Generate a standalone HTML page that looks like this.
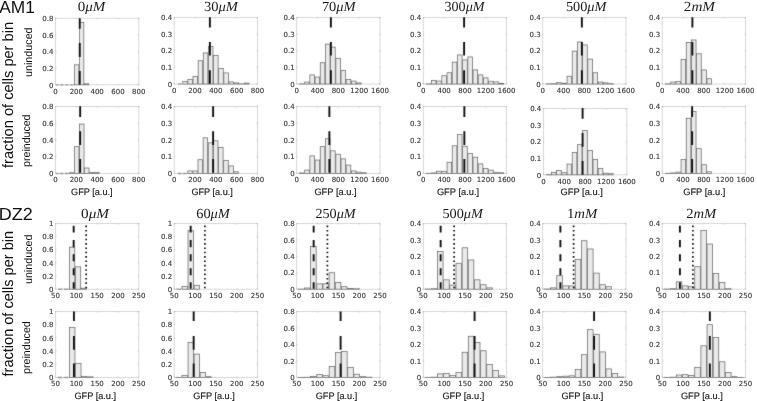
<!DOCTYPE html>
<html><head><meta charset="utf-8"><title>GFP histograms</title>
<style>
html,body{margin:0;padding:0;background:#fff;}
body{width:757px;height:401px;overflow:hidden;}
svg{display:block;text-rendering:geometricPrecision;}
.tk text{font-family:"DejaVu Sans","Liberation Sans",sans-serif;font-size:7.0px;fill:#383838;stroke:#383838;stroke-width:0.12px;}
.tt{font-family:"Liberation Serif","DejaVu Serif",serif;font-size:13.9px;fill:#1a1a1a;}
.gl{font-family:"Liberation Sans",Arial,sans-serif;font-size:9.3px;fill:#1a1a1a;stroke:#1a1a1a;stroke-width:0.15px;}
.sl{font-family:"Liberation Sans",Arial,sans-serif;font-size:17.5px;fill:#111;}
.fl{font-family:"Liberation Sans",Arial,sans-serif;font-size:15px;fill:#111;}
.il{font-family:"Liberation Sans",Arial,sans-serif;font-size:10.8px;fill:#111;}
</style></head>
<body>
<svg width="757" height="401" viewBox="0 0 757 401">
<defs><filter id="soft" x="0" y="0" width="757" height="401" filterUnits="userSpaceOnUse" color-interpolation-filters="sRGB"><feConvolveMatrix order="3" kernelMatrix="0.015 0.065 0.015 0.065 0.68 0.065 0.015 0.065 0.015" edgeMode="duplicate" preserveAlpha="true"/></filter></defs>
<g filter="url(#soft)">
<rect width="757" height="401" fill="#fff"/>
<g><g><rect x="55.5" y="18.25" width="83.3" height="66.55" fill="none" stroke="#cfcfcf" stroke-width="0.8"/><path d="M55.5 84.8h1M138.8 84.8h-1M55.5 68.16h1M138.8 68.16h-1M55.5 51.52h1M138.8 51.52h-1M55.5 34.89h1M138.8 34.89h-1M55.5 18.25h1M138.8 18.25h-1M55.5 84.8v-1M55.5 18.25v1M76.33 84.8v-1M76.33 18.25v1M97.15 84.8v-1M97.15 18.25v1M117.97 84.8v-1M117.97 18.25v1M138.8 84.8v-1M138.8 18.25v1" stroke="#a8a8a8" stroke-width="0.6" fill="none"/></g><g fill="#eaeaea" stroke="#666666" stroke-width="0.72"><path d="M69.87 84.8H73.53M64.9 84.8H68.57M59.94 84.8H63.6M56.1 84.8H58.64" stroke="#999" stroke-width="1.35" fill="none"/><rect x="74.48" y="64.83" width="4.37" height="19.96"/><rect x="79.45" y="22.41" width="4.37" height="62.39"/><rect x="84.41" y="83.8" width="4.37" height="1"/></g><path d="M79.75 18.21V28.69M79.75 42.91V56.89M79.75 71.11V84.58" stroke="#111" stroke-width="1.9" fill="none"/></g>
<g><g><rect x="174.2" y="17.5" width="83.3" height="66.55" fill="none" stroke="#cfcfcf" stroke-width="0.8"/><path d="M174.2 84.05h1M257.5 84.05h-1M174.2 67.41h1M257.5 67.41h-1M174.2 50.77h1M257.5 50.77h-1M174.2 34.14h1M257.5 34.14h-1M174.2 17.5h1M257.5 17.5h-1M174.2 84.05v-1M174.2 17.5v1M195.02 84.05v-1M195.02 17.5v1M215.85 84.05v-1M215.85 17.5v1M236.67 84.05v-1M236.67 17.5v1M257.5 84.05v-1M257.5 17.5v1" stroke="#a8a8a8" stroke-width="0.6" fill="none"/></g><g fill="#eaeaea" stroke="#666666" stroke-width="0.72"><path d="M177.95 84.05H181.79" stroke="#999" stroke-width="1.35" fill="none"/><rect x="182.74" y="81.55" width="4.54" height="2.5"/><rect x="187.87" y="79.56" width="4.54" height="4.49"/><rect x="193.01" y="76.56" width="4.54" height="7.49"/><rect x="198.15" y="60.76" width="4.54" height="23.29"/><rect x="203.29" y="52.94" width="4.54" height="31.11"/><rect x="208.43" y="46.62" width="4.54" height="37.43"/><rect x="213.57" y="55.43" width="4.54" height="28.62"/><rect x="218.71" y="68.58" width="4.54" height="15.47"/><rect x="223.85" y="72.9" width="4.54" height="11.15"/><rect x="228.99" y="81.89" width="4.54" height="2.16"/><rect x="234.13" y="82.89" width="4.54" height="1.16"/><rect x="239.27" y="83.88" width="4.54" height="0.17"/><rect x="244.41" y="83.05" width="4.54" height="1"/></g><path d="M209.88 17.22V27.45M209.88 41.92V55.39M209.88 70.36V83.83" stroke="#111" stroke-width="1.9" fill="none"/></g>
<g><g><rect x="296.7" y="17.5" width="83.3" height="66.55" fill="none" stroke="#cfcfcf" stroke-width="0.8"/><path d="M296.7 84.05h1M380 84.05h-1M296.7 67.41h1M380 67.41h-1M296.7 50.77h1M380 50.77h-1M296.7 34.14h1M380 34.14h-1M296.7 17.5h1M380 17.5h-1M296.7 84.05v-1M296.7 17.5v1M317.52 84.05v-1M317.52 17.5v1M338.35 84.05v-1M338.35 17.5v1M359.18 84.05v-1M359.18 17.5v1M380 84.05v-1M380 17.5v1" stroke="#a8a8a8" stroke-width="0.6" fill="none"/></g><g fill="#eaeaea" stroke="#666666" stroke-width="0.72"><rect x="299.49" y="83.88" width="4.59" height="0.17"/><rect x="304.68" y="82.05" width="4.59" height="2"/><rect x="309.87" y="74.9" width="4.59" height="9.15"/><rect x="315.06" y="77.06" width="4.59" height="6.99"/><rect x="320.25" y="62.75" width="4.59" height="21.3"/><rect x="325.44" y="44.12" width="4.59" height="39.93"/><rect x="330.63" y="47.11" width="4.59" height="36.94"/><rect x="335.82" y="58.26" width="4.59" height="25.79"/><rect x="341.01" y="70.41" width="4.59" height="13.64"/><rect x="346.2" y="79.56" width="4.59" height="4.49"/><rect x="351.39" y="81.06" width="4.59" height="2.99"/><rect x="356.58" y="82.89" width="4.59" height="1.16"/></g><path d="M330.88 17.22V27.45M330.88 41.92V55.39M330.88 70.36V83.83" stroke="#111" stroke-width="1.9" fill="none"/></g>
<g><g><rect x="423.3" y="17.5" width="83.3" height="66.55" fill="none" stroke="#cfcfcf" stroke-width="0.8"/><path d="M423.3 84.05h1M506.6 84.05h-1M423.3 67.41h1M506.6 67.41h-1M423.3 50.77h1M506.6 50.77h-1M423.3 34.14h1M506.6 34.14h-1M423.3 17.5h1M506.6 17.5h-1M423.3 84.05v-1M423.3 17.5v1M444.12 84.05v-1M444.12 17.5v1M464.95 84.05v-1M464.95 17.5v1M485.78 84.05v-1M485.78 17.5v1M506.6 84.05v-1M506.6 17.5v1" stroke="#a8a8a8" stroke-width="0.6" fill="none"/></g><g fill="#eaeaea" stroke="#666666" stroke-width="0.72"><rect x="426.23" y="83.88" width="4.6" height="0.17"/><rect x="431.43" y="80.39" width="4.6" height="3.66"/><rect x="436.63" y="81.06" width="4.6" height="2.99"/><rect x="441.83" y="75.73" width="4.6" height="8.32"/><rect x="447.04" y="72.74" width="4.6" height="11.31"/><rect x="452.24" y="62.09" width="4.6" height="21.96"/><rect x="457.44" y="54.93" width="4.6" height="29.12"/><rect x="462.64" y="59.93" width="4.6" height="24.12"/><rect x="467.84" y="56.93" width="4.6" height="27.12"/><rect x="473.05" y="69.91" width="4.6" height="14.14"/><rect x="478.25" y="74.9" width="4.6" height="9.15"/><rect x="483.45" y="77.89" width="4.6" height="6.16"/><rect x="488.65" y="81.22" width="4.6" height="2.83"/><rect x="493.86" y="81.89" width="4.6" height="2.16"/><rect x="499.06" y="83.55" width="4.6" height="0.5"/></g><path d="M464.1 17.22V27.45M464.1 41.92V55.39M464.1 70.36V83.83" stroke="#111" stroke-width="1.9" fill="none"/></g>
<g><g><rect x="542.7" y="17.5" width="83.3" height="66.55" fill="none" stroke="#cfcfcf" stroke-width="0.8"/><path d="M542.7 84.05h1M626 84.05h-1M542.7 67.41h1M626 67.41h-1M542.7 50.77h1M626 50.77h-1M542.7 34.14h1M626 34.14h-1M542.7 17.5h1M626 17.5h-1M542.7 84.05v-1M542.7 17.5v1M563.53 84.05v-1M563.53 17.5v1M584.35 84.05v-1M584.35 17.5v1M605.18 84.05v-1M605.18 17.5v1M626 84.05v-1M626 17.5v1" stroke="#a8a8a8" stroke-width="0.6" fill="none"/></g><g fill="#eaeaea" stroke="#666666" stroke-width="0.72"><rect x="546.23" y="83.88" width="4.6" height="0.17"/><rect x="551.43" y="83.72" width="4.6" height="0.33"/><rect x="556.63" y="82.72" width="4.6" height="1.33"/><rect x="561.83" y="83.22" width="4.6" height="0.83"/><rect x="567.04" y="76.23" width="4.6" height="7.82"/><rect x="572.24" y="51.11" width="4.6" height="32.94"/><rect x="577.44" y="41.96" width="4.6" height="42.09"/><rect x="582.64" y="44.95" width="4.6" height="39.1"/><rect x="587.84" y="59.09" width="4.6" height="24.96"/><rect x="593.05" y="72.74" width="4.6" height="11.31"/><rect x="598.25" y="82.05" width="4.6" height="2"/><rect x="603.45" y="82.89" width="4.6" height="1.16"/><rect x="608.65" y="83.72" width="4.6" height="0.33"/></g><path d="M581.86 17.22V27.45M581.86 41.92V55.39M581.86 70.36V83.83" stroke="#111" stroke-width="1.9" fill="none"/></g>
<g><g><rect x="662.2" y="17.5" width="83.3" height="66.55" fill="none" stroke="#cfcfcf" stroke-width="0.8"/><path d="M662.2 84.05h1M745.5 84.05h-1M662.2 67.41h1M745.5 67.41h-1M662.2 50.77h1M745.5 50.77h-1M662.2 34.14h1M745.5 34.14h-1M662.2 17.5h1M745.5 17.5h-1M662.2 84.05v-1M662.2 17.5v1M683.03 84.05v-1M683.03 17.5v1M703.85 84.05v-1M703.85 17.5v1M724.68 84.05v-1M724.68 17.5v1M745.5 84.05v-1M745.5 17.5v1" stroke="#a8a8a8" stroke-width="0.6" fill="none"/></g><g fill="#eaeaea" stroke="#666666" stroke-width="0.72"><rect x="665.49" y="83.88" width="4.59" height="0.17"/><rect x="670.68" y="82.05" width="4.59" height="2"/><rect x="675.87" y="81.55" width="4.59" height="2.5"/><rect x="681.06" y="59.59" width="4.59" height="24.46"/><rect x="686.25" y="42.46" width="4.59" height="41.59"/><rect x="691.44" y="39.96" width="4.59" height="44.09"/><rect x="696.63" y="53.77" width="4.59" height="30.28"/><rect x="701.82" y="69.91" width="4.59" height="14.14"/><rect x="707.01" y="78.73" width="4.59" height="5.32"/></g><path d="M692.39 17.22V27.45M692.39 41.92V55.39M692.39 70.36V83.83" stroke="#111" stroke-width="1.9" fill="none"/></g>
<g><g><rect x="55.5" y="106.5" width="83.3" height="66.95" fill="none" stroke="#cfcfcf" stroke-width="0.8"/><path d="M55.5 173.45h1M138.8 173.45h-1M55.5 156.71h1M138.8 156.71h-1M55.5 139.97h1M138.8 139.97h-1M55.5 123.24h1M138.8 123.24h-1M55.5 106.5h1M138.8 106.5h-1M55.5 173.45v-1M55.5 106.5v1M76.33 173.45v-1M76.33 106.5v1M97.15 173.45v-1M97.15 106.5v1M117.97 173.45v-1M117.97 106.5v1M138.8 173.45v-1M138.8 106.5v1" stroke="#a8a8a8" stroke-width="0.6" fill="none"/></g><g fill="#eaeaea" stroke="#666666" stroke-width="0.72"><path d="M64.8 173.45H68.54M59.76 173.45H63.5M56.1 173.45H58.46" stroke="#999" stroke-width="1.35" fill="none"/><rect x="69.49" y="172.78" width="4.44" height="0.67"/><rect x="74.53" y="146.67" width="4.44" height="26.78"/><rect x="79.57" y="124.07" width="4.44" height="49.38"/><rect x="84.61" y="168.01" width="4.44" height="5.44"/><rect x="89.65" y="172.45" width="4.44" height="1"/><rect x="94.69" y="172.45" width="4.44" height="1"/></g><path d="M80.17 106.23V116.96M80.17 131.18V144.9M80.17 159.12V172.84" stroke="#111" stroke-width="1.9" fill="none"/></g>
<g><g><rect x="174.2" y="106.5" width="83.3" height="66.95" fill="none" stroke="#cfcfcf" stroke-width="0.8"/><path d="M174.2 173.45h1M257.5 173.45h-1M174.2 156.71h1M257.5 156.71h-1M174.2 139.97h1M257.5 139.97h-1M174.2 123.24h1M257.5 123.24h-1M174.2 106.5h1M257.5 106.5h-1M174.2 173.45v-1M174.2 106.5v1M195.02 173.45v-1M195.02 106.5v1M215.85 173.45v-1M215.85 106.5v1M236.67 173.45v-1M236.67 106.5v1M257.5 173.45v-1M257.5 106.5v1" stroke="#a8a8a8" stroke-width="0.6" fill="none"/></g><g fill="#eaeaea" stroke="#666666" stroke-width="0.72"><path d="M182.94 173.45H186.78M177.8 173.45H181.64" stroke="#999" stroke-width="1.35" fill="none"/><rect x="187.73" y="170.94" width="4.54" height="2.51"/><rect x="192.86" y="170.94" width="4.54" height="2.51"/><rect x="198" y="159.73" width="4.54" height="13.72"/><rect x="203.14" y="137.8" width="4.54" height="35.65"/><rect x="208.28" y="142.82" width="4.54" height="30.63"/><rect x="213.42" y="140.81" width="4.54" height="32.64"/><rect x="218.56" y="147.51" width="4.54" height="25.94"/><rect x="223.7" y="160.56" width="4.54" height="12.89"/><rect x="228.84" y="165.92" width="4.54" height="7.53"/><rect x="233.98" y="171.78" width="4.54" height="1.67"/></g><path d="M213.12 106.23V116.96M213.12 131.18V144.9M213.12 159.12V172.84" stroke="#111" stroke-width="1.9" fill="none"/></g>
<g><g><rect x="296.7" y="106.5" width="83.3" height="66.95" fill="none" stroke="#cfcfcf" stroke-width="0.8"/><path d="M296.7 173.45h1M380 173.45h-1M296.7 156.71h1M380 156.71h-1M296.7 139.97h1M380 139.97h-1M296.7 123.24h1M380 123.24h-1M296.7 106.5h1M380 106.5h-1M296.7 173.45v-1M296.7 106.5v1M317.52 173.45v-1M317.52 106.5v1M338.35 173.45v-1M338.35 106.5v1M359.18 173.45v-1M359.18 106.5v1M380 173.45v-1M380 106.5v1" stroke="#a8a8a8" stroke-width="0.6" fill="none"/></g><g fill="#eaeaea" stroke="#666666" stroke-width="0.72"><rect x="299.49" y="172.95" width="4.59" height="0.5"/><rect x="304.68" y="170.1" width="4.59" height="3.35"/><rect x="309.87" y="155.88" width="4.59" height="17.57"/><rect x="315.06" y="160.06" width="4.59" height="13.39"/><rect x="320.25" y="146.67" width="4.59" height="26.78"/><rect x="325.44" y="138.8" width="4.59" height="34.65"/><rect x="330.63" y="150.85" width="4.59" height="22.6"/><rect x="335.82" y="154.2" width="4.59" height="19.25"/><rect x="341.01" y="158.89" width="4.59" height="14.56"/><rect x="346.2" y="165.08" width="4.59" height="8.37"/><rect x="351.39" y="170.94" width="4.59" height="2.51"/><rect x="356.58" y="172.11" width="4.59" height="1.34"/><rect x="361.77" y="172.78" width="4.59" height="0.67"/></g><path d="M329.38 106.23V116.96M329.38 131.18V144.9M329.38 159.12V172.84" stroke="#111" stroke-width="1.9" fill="none"/></g>
<g><g><rect x="423.3" y="106.5" width="83.3" height="66.95" fill="none" stroke="#cfcfcf" stroke-width="0.8"/><path d="M423.3 173.45h1M506.6 173.45h-1M423.3 156.71h1M506.6 156.71h-1M423.3 139.97h1M506.6 139.97h-1M423.3 123.24h1M506.6 123.24h-1M423.3 106.5h1M506.6 106.5h-1M423.3 173.45v-1M423.3 106.5v1M444.12 173.45v-1M444.12 106.5v1M464.95 173.45v-1M464.95 106.5v1M485.78 173.45v-1M485.78 106.5v1M506.6 173.45v-1M506.6 106.5v1" stroke="#a8a8a8" stroke-width="0.6" fill="none"/></g><g fill="#eaeaea" stroke="#666666" stroke-width="0.72"><rect x="426.23" y="173.28" width="4.6" height="0.17"/><rect x="431.43" y="172.95" width="4.6" height="0.5"/><rect x="436.63" y="171.27" width="4.6" height="2.18"/><rect x="441.83" y="171.27" width="4.6" height="2.18"/><rect x="447.04" y="162.24" width="4.6" height="11.21"/><rect x="452.24" y="145.83" width="4.6" height="27.62"/><rect x="457.44" y="134.62" width="4.6" height="38.83"/><rect x="462.64" y="146.17" width="4.6" height="27.28"/><rect x="467.84" y="153.36" width="4.6" height="20.08"/><rect x="473.05" y="157.21" width="4.6" height="16.24"/><rect x="478.25" y="163.91" width="4.6" height="9.54"/><rect x="483.45" y="168.43" width="4.6" height="5.02"/><rect x="488.65" y="170.1" width="4.6" height="3.35"/><rect x="493.86" y="172.28" width="4.6" height="1.17"/><rect x="499.06" y="172.78" width="4.6" height="0.67"/></g><path d="M464.35 106.23V116.96M464.35 131.18V144.9M464.35 159.12V172.84" stroke="#111" stroke-width="1.9" fill="none"/></g>
<g><g><rect x="543.4" y="108.55" width="83.45" height="66.3" fill="none" stroke="#cfcfcf" stroke-width="0.8"/><path d="M543.4 174.85h1M626.85 174.85h-1M543.4 158.28h1M626.85 158.28h-1M543.4 141.7h1M626.85 141.7h-1M543.4 125.12h1M626.85 125.12h-1M543.4 108.55h1M626.85 108.55h-1M543.4 174.85v-1M543.4 108.55v1M564.26 174.85v-1M564.26 108.55v1M585.12 174.85v-1M585.12 108.55v1M605.99 174.85v-1M605.99 108.55v1M626.85 174.85v-1M626.85 108.55v1" stroke="#a8a8a8" stroke-width="0.6" fill="none"/></g><g fill="#eaeaea" stroke="#666666" stroke-width="0.72"><rect x="546.23" y="174.68" width="4.6" height="0.17"/><rect x="551.43" y="172.36" width="4.6" height="2.49"/><rect x="556.63" y="170.37" width="4.6" height="4.48"/><rect x="561.83" y="172.7" width="4.6" height="2.15"/><rect x="567.04" y="164.08" width="4.6" height="10.77"/><rect x="572.24" y="152.47" width="4.6" height="22.38"/><rect x="577.44" y="144.68" width="4.6" height="30.17"/><rect x="582.64" y="130.59" width="4.6" height="44.26"/><rect x="587.84" y="150.48" width="4.6" height="24.37"/><rect x="593.05" y="159.6" width="4.6" height="15.25"/><rect x="598.25" y="168.55" width="4.6" height="6.3"/><rect x="603.45" y="173.19" width="4.6" height="1.66"/><rect x="608.65" y="173.69" width="4.6" height="1.16"/></g><path d="M582.6 107.97V118.7M582.6 132.92V146.65M582.6 161.12V174.84" stroke="#111" stroke-width="1.9" fill="none"/></g>
<g><g><rect x="662.2" y="106.5" width="83.3" height="66.95" fill="none" stroke="#cfcfcf" stroke-width="0.8"/><path d="M662.2 173.45h1M745.5 173.45h-1M662.2 156.71h1M745.5 156.71h-1M662.2 139.97h1M745.5 139.97h-1M662.2 123.24h1M745.5 123.24h-1M662.2 106.5h1M745.5 106.5h-1M662.2 173.45v-1M662.2 106.5v1M683.03 173.45v-1M683.03 106.5v1M703.85 173.45v-1M703.85 106.5v1M724.68 173.45v-1M724.68 106.5v1M745.5 173.45v-1M745.5 106.5v1" stroke="#a8a8a8" stroke-width="0.6" fill="none"/></g><g fill="#eaeaea" stroke="#666666" stroke-width="0.72"><rect x="665.49" y="173.28" width="4.59" height="0.17"/><rect x="670.68" y="172.95" width="4.59" height="0.5"/><rect x="675.87" y="172.11" width="4.59" height="1.34"/><rect x="681.06" y="159.56" width="4.59" height="13.89"/><rect x="686.25" y="118.22" width="4.59" height="55.23"/><rect x="691.44" y="111.52" width="4.59" height="61.93"/><rect x="696.63" y="148.68" width="4.59" height="24.77"/><rect x="701.82" y="164.75" width="4.59" height="8.7"/><rect x="707.01" y="171.78" width="4.59" height="1.67"/></g><path d="M692.14 106.23V116.96M692.14 131.18V144.9M692.14 159.12V172.84" stroke="#111" stroke-width="1.9" fill="none"/></g>
<g><g><rect x="55.5" y="223.5" width="83.3" height="65.7" fill="none" stroke="#cfcfcf" stroke-width="0.8"/><path d="M55.5 289.2h1M138.8 289.2h-1M55.5 276.06h1M138.8 276.06h-1M55.5 262.92h1M138.8 262.92h-1M55.5 249.78h1M138.8 249.78h-1M55.5 236.64h1M138.8 236.64h-1M55.5 223.5h1M138.8 223.5h-1M55.5 289.2v-1M55.5 223.5v1M76.33 289.2v-1M76.33 223.5v1M97.15 289.2v-1M97.15 223.5v1M117.97 289.2v-1M117.97 223.5v1M138.8 289.2v-1M138.8 223.5v1" stroke="#a8a8a8" stroke-width="0.6" fill="none"/></g><g fill="#eaeaea" stroke="#666666" stroke-width="0.72"><path d="M63.95 289.2H68.54M58.07 289.2H62.65" stroke="#999" stroke-width="1.35" fill="none"/><rect x="69.49" y="247.15" width="5.29" height="42.05"/><rect x="75.38" y="266.86" width="5.29" height="22.34"/><rect x="81.27" y="288.21" width="5.29" height="0.99"/></g><path d="M73.68 225.8V232.5M73.68 240V247.2M73.68 254.2V261.2M73.68 268.2V275.2M73.68 282.2V288.8" stroke="#111" stroke-width="1.9" fill="none"/><line x1="86.16" y1="225.6" x2="86.16" y2="289.2" stroke="#111" stroke-width="1.7" stroke-dasharray="1.6 2.76"/></g>
<g><g><rect x="174.2" y="223.5" width="83.3" height="65.7" fill="none" stroke="#cfcfcf" stroke-width="0.8"/><path d="M174.2 289.2h1M257.5 289.2h-1M174.2 276.06h1M257.5 276.06h-1M174.2 262.92h1M257.5 262.92h-1M174.2 249.78h1M257.5 249.78h-1M174.2 236.64h1M257.5 236.64h-1M174.2 223.5h1M257.5 223.5h-1M174.2 289.2v-1M174.2 223.5v1M195.02 289.2v-1M195.02 223.5v1M215.85 289.2v-1M215.85 223.5v1M236.67 289.2v-1M236.67 223.5v1M257.5 289.2v-1M257.5 223.5v1" stroke="#a8a8a8" stroke-width="0.6" fill="none"/></g><g fill="#eaeaea" stroke="#666666" stroke-width="0.72"><path d="M176.3 289.2H181.04" stroke="#999" stroke-width="1.35" fill="none"/><rect x="181.99" y="286.57" width="5.44" height="2.63"/><rect x="188.02" y="230.73" width="5.44" height="58.47"/><rect x="194.06" y="285.26" width="5.44" height="3.94"/></g><path d="M190.67 225.8V232.5M190.67 240V247.2M190.67 254.2V261.2M190.67 268.2V275.2M190.67 282.2V288.8" stroke="#111" stroke-width="1.9" fill="none"/><line x1="204.89" y1="225.6" x2="204.89" y2="289.2" stroke="#111" stroke-width="1.7" stroke-dasharray="1.6 2.76"/></g>
<g><g><rect x="296.7" y="223.5" width="83.3" height="65.7" fill="none" stroke="#cfcfcf" stroke-width="0.8"/><path d="M296.7 289.2h1M380 289.2h-1M296.7 272.77h1M380 272.77h-1M296.7 256.35h1M380 256.35h-1M296.7 239.93h1M380 239.93h-1M296.7 223.5h1M380 223.5h-1M296.7 289.2v-1M296.7 223.5v1M317.52 289.2v-1M317.52 223.5v1M338.35 289.2v-1M338.35 223.5v1M359.18 289.2v-1M359.18 223.5v1M380 289.2v-1M380 223.5v1" stroke="#a8a8a8" stroke-width="0.6" fill="none"/></g><g fill="#eaeaea" stroke="#666666" stroke-width="0.72"><rect x="298.24" y="289.12" width="5.58" height="0.08"/><rect x="304.42" y="287.97" width="5.58" height="1.23"/><rect x="310.59" y="246.5" width="5.58" height="42.7"/><rect x="316.77" y="283.86" width="5.58" height="5.34"/><rect x="322.94" y="283.86" width="5.58" height="5.34"/><rect x="329.12" y="272.77" width="5.58" height="16.42"/><rect x="335.3" y="282.63" width="5.58" height="6.57"/><rect x="341.47" y="286.74" width="5.58" height="2.46"/><rect x="347.65" y="288.54" width="5.58" height="0.66"/><rect x="353.82" y="288.79" width="5.58" height="0.41"/></g><path d="M313.66 225.8V232.5M313.66 240V247.2M313.66 254.2V261.2M313.66 268.2V275.2M313.66 282.2V288.8" stroke="#111" stroke-width="1.9" fill="none"/><line x1="327.39" y1="225.6" x2="327.39" y2="289.2" stroke="#111" stroke-width="1.7" stroke-dasharray="1.6 2.76"/></g>
<g><g><rect x="423.3" y="223.5" width="83.3" height="65.7" fill="none" stroke="#cfcfcf" stroke-width="0.8"/><path d="M423.3 289.2h1M506.6 289.2h-1M423.3 272.77h1M506.6 272.77h-1M423.3 256.35h1M506.6 256.35h-1M423.3 239.93h1M506.6 239.93h-1M423.3 223.5h1M506.6 223.5h-1M423.3 289.2v-1M423.3 223.5v1M444.12 289.2v-1M444.12 223.5v1M464.95 289.2v-1M464.95 223.5v1M485.78 289.2v-1M485.78 223.5v1M506.6 289.2v-1M506.6 223.5v1" stroke="#a8a8a8" stroke-width="0.6" fill="none"/></g><g fill="#eaeaea" stroke="#666666" stroke-width="0.72"><rect x="425.23" y="289.04" width="5.55" height="0.16"/><rect x="431.38" y="288.71" width="5.55" height="0.49"/><rect x="437.53" y="251.42" width="5.55" height="37.78"/><rect x="443.68" y="279.84" width="5.55" height="9.36"/><rect x="449.83" y="285.09" width="5.55" height="4.11"/><rect x="455.98" y="263.25" width="5.55" height="25.95"/><rect x="462.13" y="247.81" width="5.55" height="41.39"/><rect x="468.28" y="259.96" width="5.55" height="29.24"/><rect x="474.43" y="279.84" width="5.55" height="9.36"/><rect x="480.58" y="284.77" width="5.55" height="4.43"/><rect x="486.73" y="287.89" width="5.55" height="1.31"/></g><path d="M440.65 225.8V232.5M440.65 240V247.2M440.65 254.2V261.2M440.65 268.2V275.2M440.65 282.2V288.8" stroke="#111" stroke-width="1.9" fill="none"/><line x1="454.12" y1="225.6" x2="454.12" y2="289.2" stroke="#111" stroke-width="1.7" stroke-dasharray="1.6 2.76"/></g>
<g><g><rect x="542.7" y="223.5" width="83.3" height="65.7" fill="none" stroke="#cfcfcf" stroke-width="0.8"/><path d="M542.7 289.2h1M626 289.2h-1M542.7 272.77h1M626 272.77h-1M542.7 256.35h1M626 256.35h-1M542.7 239.93h1M626 239.93h-1M542.7 223.5h1M626 223.5h-1M542.7 289.2v-1M542.7 223.5v1M563.53 289.2v-1M563.53 223.5v1M584.35 289.2v-1M584.35 223.5v1M605.18 289.2v-1M605.18 223.5v1M626 289.2v-1M626 223.5v1" stroke="#a8a8a8" stroke-width="0.6" fill="none"/></g><g fill="#eaeaea" stroke="#666666" stroke-width="0.72"><rect x="544.48" y="289.04" width="5.55" height="0.16"/><rect x="550.63" y="287.89" width="5.55" height="1.31"/><rect x="556.78" y="275.73" width="5.55" height="13.47"/><rect x="562.93" y="285.91" width="5.55" height="3.28"/><rect x="569.08" y="285.91" width="5.55" height="3.28"/><rect x="575.23" y="259.31" width="5.55" height="29.89"/><rect x="581.38" y="240.75" width="5.55" height="48.45"/><rect x="587.53" y="248.96" width="5.55" height="40.24"/><rect x="593.68" y="273.1" width="5.55" height="16.1"/><rect x="599.83" y="284.77" width="5.55" height="4.43"/><rect x="605.98" y="286.74" width="5.55" height="2.46"/></g><path d="M560.4 225.8V232.5M560.4 240V247.2M560.4 254.2V261.2M560.4 268.2V275.2M560.4 282.2V288.8" stroke="#111" stroke-width="1.9" fill="none"/><line x1="573.62" y1="225.6" x2="573.62" y2="289.2" stroke="#111" stroke-width="1.7" stroke-dasharray="1.6 2.76"/></g>
<g><g><rect x="662.2" y="223.5" width="83.3" height="65.7" fill="none" stroke="#cfcfcf" stroke-width="0.8"/><path d="M662.2 289.2h1M745.5 289.2h-1M662.2 272.77h1M745.5 272.77h-1M662.2 256.35h1M745.5 256.35h-1M662.2 239.93h1M745.5 239.93h-1M662.2 223.5h1M745.5 223.5h-1M662.2 289.2v-1M662.2 223.5v1M683.03 289.2v-1M683.03 223.5v1M703.85 289.2v-1M703.85 223.5v1M724.68 289.2v-1M724.68 223.5v1M745.5 289.2v-1M745.5 223.5v1" stroke="#a8a8a8" stroke-width="0.6" fill="none"/></g><g fill="#eaeaea" stroke="#666666" stroke-width="0.72"><rect x="664" y="289.04" width="5.55" height="0.16"/><rect x="670.15" y="288.71" width="5.55" height="0.49"/><rect x="676.3" y="281.81" width="5.55" height="7.39"/><rect x="682.45" y="285.91" width="5.55" height="3.28"/><rect x="688.6" y="286.74" width="5.55" height="2.46"/><rect x="694.75" y="266.7" width="5.55" height="22.5"/><rect x="700.9" y="230.56" width="5.55" height="58.64"/><rect x="707.05" y="244.03" width="5.55" height="45.17"/><rect x="713.2" y="273.6" width="5.55" height="15.6"/><rect x="719.35" y="282.63" width="5.55" height="6.57"/><rect x="725.5" y="288.71" width="5.55" height="0.49"/></g><path d="M679.91 225.8V232.5M679.91 240V247.2M679.91 254.2V261.2M679.91 268.2V275.2M679.91 282.2V288.8" stroke="#111" stroke-width="1.9" fill="none"/><line x1="692.89" y1="225.6" x2="692.89" y2="289.2" stroke="#111" stroke-width="1.7" stroke-dasharray="1.6 2.76"/></g>
<g><g><rect x="55.5" y="311.5" width="83.3" height="66" fill="none" stroke="#cfcfcf" stroke-width="0.8"/><path d="M55.5 377.5h1M138.8 377.5h-1M55.5 364.3h1M138.8 364.3h-1M55.5 351.1h1M138.8 351.1h-1M55.5 337.9h1M138.8 337.9h-1M55.5 324.7h1M138.8 324.7h-1M55.5 311.5h1M138.8 311.5h-1M55.5 377.5v-1M55.5 311.5v1M76.33 377.5v-1M76.33 311.5v1M97.15 377.5v-1M97.15 311.5v1M117.97 377.5v-1M117.97 311.5v1M138.8 377.5v-1M138.8 311.5v1" stroke="#a8a8a8" stroke-width="0.6" fill="none"/></g><g fill="#eaeaea" stroke="#666666" stroke-width="0.72"><path d="M63.78 377.5H68.54M57.72 377.5H62.48" stroke="#999" stroke-width="1.35" fill="none"/><rect x="69.49" y="327.34" width="5.46" height="50.16"/><rect x="75.55" y="363.31" width="5.46" height="14.19"/><rect x="81.62" y="376.51" width="5.46" height="0.99"/><rect x="87.68" y="376.84" width="5.46" height="0.66"/></g><path d="M73.93 311.48V320.96M73.93 335.93V349.65M73.93 363.38V377.1" stroke="#111" stroke-width="1.9" fill="none"/></g>
<g><g><rect x="174.2" y="311.5" width="83.3" height="66" fill="none" stroke="#cfcfcf" stroke-width="0.8"/><path d="M174.2 377.5h1M257.5 377.5h-1M174.2 364.3h1M257.5 364.3h-1M174.2 351.1h1M257.5 351.1h-1M174.2 337.9h1M257.5 337.9h-1M174.2 324.7h1M257.5 324.7h-1M174.2 311.5h1M257.5 311.5h-1M174.2 377.5v-1M174.2 311.5v1M195.02 377.5v-1M195.02 311.5v1M215.85 377.5v-1M215.85 311.5v1M236.67 377.5v-1M236.67 311.5v1M257.5 377.5v-1M257.5 311.5v1" stroke="#a8a8a8" stroke-width="0.6" fill="none"/></g><g fill="#eaeaea" stroke="#666666" stroke-width="0.72"><rect x="176" y="377.3" width="5.44" height="0.2"/><rect x="182.04" y="375.52" width="5.44" height="1.98"/><rect x="188.07" y="342.52" width="5.44" height="34.98"/><rect x="194.11" y="354.07" width="5.44" height="23.43"/><rect x="200.15" y="372.55" width="5.44" height="4.95"/><rect x="206.19" y="376.71" width="5.44" height="0.79"/></g><path d="M193.66 311.48V320.96M193.66 335.93V349.65M193.66 363.38V377.1" stroke="#111" stroke-width="1.9" fill="none"/></g>
<g><g><rect x="296.7" y="311.5" width="83.3" height="66" fill="none" stroke="#cfcfcf" stroke-width="0.8"/><path d="M296.7 377.5h1M380 377.5h-1M296.7 361h1M380 361h-1M296.7 344.5h1M380 344.5h-1M296.7 328h1M380 328h-1M296.7 311.5h1M380 311.5h-1M296.7 377.5v-1M296.7 311.5v1M317.52 377.5v-1M317.52 311.5v1M338.35 377.5v-1M338.35 311.5v1M359.18 377.5v-1M359.18 311.5v1M380 377.5v-1M380 311.5v1" stroke="#a8a8a8" stroke-width="0.6" fill="none"/></g><g fill="#eaeaea" stroke="#666666" stroke-width="0.72"><rect x="298.24" y="377.33" width="5.59" height="0.17"/><rect x="304.43" y="377.25" width="5.59" height="0.25"/><rect x="310.62" y="376.51" width="5.59" height="0.99"/><rect x="316.81" y="374.61" width="5.59" height="2.89"/><rect x="322.99" y="375.69" width="5.59" height="1.81"/><rect x="329.18" y="366.36" width="5.59" height="11.14"/><rect x="335.37" y="352.34" width="5.59" height="25.16"/><rect x="341.56" y="351.51" width="5.59" height="25.99"/><rect x="347.75" y="367.6" width="5.59" height="9.9"/><rect x="353.93" y="374.2" width="5.59" height="3.3"/><rect x="360.12" y="376.68" width="5.59" height="0.82"/><rect x="366.31" y="377.17" width="5.59" height="0.33"/></g><path d="M340.61 311.48V320.96M340.61 335.93V349.65M340.61 363.38V377.1" stroke="#111" stroke-width="1.9" fill="none"/></g>
<g><g><rect x="423.3" y="311.5" width="83.3" height="66" fill="none" stroke="#cfcfcf" stroke-width="0.8"/><path d="M423.3 377.5h1M506.6 377.5h-1M423.3 361h1M506.6 361h-1M423.3 344.5h1M506.6 344.5h-1M423.3 328h1M506.6 328h-1M423.3 311.5h1M506.6 311.5h-1M423.3 377.5v-1M423.3 311.5v1M444.12 377.5v-1M444.12 311.5v1M464.95 377.5v-1M464.95 311.5v1M485.78 377.5v-1M485.78 311.5v1M506.6 377.5v-1M506.6 311.5v1" stroke="#a8a8a8" stroke-width="0.6" fill="none"/></g><g fill="#eaeaea" stroke="#666666" stroke-width="0.72"><rect x="425.23" y="377.33" width="5.55" height="0.17"/><rect x="431.38" y="377.17" width="5.55" height="0.33"/><rect x="437.53" y="373.87" width="5.55" height="3.63"/><rect x="443.68" y="373.38" width="5.55" height="4.12"/><rect x="449.83" y="375.52" width="5.55" height="1.98"/><rect x="455.98" y="372.55" width="5.55" height="4.95"/><rect x="462.13" y="352.25" width="5.55" height="25.24"/><rect x="468.28" y="336.25" width="5.55" height="41.25"/><rect x="474.43" y="342.52" width="5.55" height="34.98"/><rect x="480.58" y="350.77" width="5.55" height="26.73"/><rect x="486.73" y="364.63" width="5.55" height="12.87"/><rect x="492.88" y="370.57" width="5.55" height="6.93"/><rect x="499.03" y="375.85" width="5.55" height="1.65"/></g><path d="M474.58 311.48V320.96M474.58 335.93V349.65M474.58 363.38V377.1" stroke="#111" stroke-width="1.9" fill="none"/></g>
<g><g><rect x="542.7" y="311.5" width="83.3" height="66" fill="none" stroke="#cfcfcf" stroke-width="0.8"/><path d="M542.7 377.5h1M626 377.5h-1M542.7 361h1M626 361h-1M542.7 344.5h1M626 344.5h-1M542.7 328h1M626 328h-1M542.7 311.5h1M626 311.5h-1M542.7 377.5v-1M542.7 311.5v1M563.53 377.5v-1M563.53 311.5v1M584.35 377.5v-1M584.35 311.5v1M605.18 377.5v-1M605.18 311.5v1M626 377.5v-1M626 311.5v1" stroke="#a8a8a8" stroke-width="0.6" fill="none"/></g><g fill="#eaeaea" stroke="#666666" stroke-width="0.72"><rect x="544.48" y="377.33" width="5.55" height="0.17"/><rect x="550.63" y="377.17" width="5.55" height="0.33"/><rect x="556.78" y="376.68" width="5.55" height="0.82"/><rect x="562.93" y="376.18" width="5.55" height="1.32"/><rect x="569.08" y="375.85" width="5.55" height="1.65"/><rect x="575.23" y="369.58" width="5.55" height="7.92"/><rect x="581.38" y="354.73" width="5.55" height="22.77"/><rect x="587.53" y="329.65" width="5.55" height="47.85"/><rect x="593.68" y="334.27" width="5.55" height="43.23"/><rect x="599.83" y="351.93" width="5.55" height="25.57"/><rect x="605.98" y="368.92" width="5.55" height="8.58"/><rect x="612.13" y="373.38" width="5.55" height="4.12"/><rect x="618.28" y="377" width="5.55" height="0.49"/></g><path d="M594.08 311.48V320.96M594.08 335.93V349.65M594.08 363.38V377.1" stroke="#111" stroke-width="1.9" fill="none"/></g>
<g><g><rect x="662.2" y="311.5" width="83.3" height="66" fill="none" stroke="#cfcfcf" stroke-width="0.8"/><path d="M662.2 377.5h1M745.5 377.5h-1M662.2 361h1M745.5 361h-1M662.2 344.5h1M745.5 344.5h-1M662.2 328h1M745.5 328h-1M662.2 311.5h1M745.5 311.5h-1M662.2 377.5v-1M662.2 311.5v1M683.03 377.5v-1M683.03 311.5v1M703.85 377.5v-1M703.85 311.5v1M724.68 377.5v-1M724.68 311.5v1M745.5 377.5v-1M745.5 311.5v1" stroke="#a8a8a8" stroke-width="0.6" fill="none"/></g><g fill="#eaeaea" stroke="#666666" stroke-width="0.72"><rect x="664" y="377.33" width="5.55" height="0.17"/><rect x="670.15" y="377.17" width="5.55" height="0.33"/><rect x="676.3" y="375.02" width="5.55" height="2.48"/><rect x="682.45" y="374.69" width="5.55" height="2.81"/><rect x="688.6" y="375.36" width="5.55" height="2.14"/><rect x="694.75" y="367.6" width="5.55" height="9.9"/><rect x="700.9" y="345.82" width="5.55" height="31.68"/><rect x="707.05" y="324.7" width="5.55" height="52.8"/><rect x="713.2" y="337.4" width="5.55" height="40.09"/><rect x="719.35" y="361.82" width="5.55" height="15.67"/><rect x="725.5" y="372.55" width="5.55" height="4.95"/><rect x="731.65" y="376.68" width="5.55" height="0.82"/><rect x="737.8" y="377.33" width="5.55" height="0.17"/></g><path d="M709.85 311.48V320.96M709.85 335.93V349.65M709.85 363.38V377.1" stroke="#111" stroke-width="1.9" fill="none"/></g>
</g>
<g class="tk">
<text x="53.4" y="87.5" text-anchor="end">0</text>
<text x="53.4" y="70.86" text-anchor="end">0.2</text>
<text x="53.4" y="54.23" text-anchor="end">0.4</text>
<text x="53.4" y="37.59" text-anchor="end">0.6</text>
<text x="53.4" y="20.95" text-anchor="end">0.8</text>
<text x="55.5" y="93.7" text-anchor="middle">0</text>
<text x="76.33" y="93.7" text-anchor="middle">200</text>
<text x="97.15" y="93.7" text-anchor="middle">400</text>
<text x="117.97" y="93.7" text-anchor="middle">600</text>
<text x="138.8" y="93.7" text-anchor="middle">800</text>
<text x="172.1" y="86.75" text-anchor="end">0</text>
<text x="172.1" y="70.11" text-anchor="end">0.1</text>
<text x="172.1" y="53.48" text-anchor="end">0.2</text>
<text x="172.1" y="36.84" text-anchor="end">0.3</text>
<text x="172.1" y="20.2" text-anchor="end">0.4</text>
<text x="174.2" y="92.95" text-anchor="middle">0</text>
<text x="195.02" y="92.95" text-anchor="middle">200</text>
<text x="215.85" y="92.95" text-anchor="middle">400</text>
<text x="236.67" y="92.95" text-anchor="middle">600</text>
<text x="257.5" y="92.95" text-anchor="middle">800</text>
<text x="294.6" y="86.75" text-anchor="end">0</text>
<text x="294.6" y="70.11" text-anchor="end">0.1</text>
<text x="294.6" y="53.48" text-anchor="end">0.2</text>
<text x="294.6" y="36.84" text-anchor="end">0.3</text>
<text x="294.6" y="20.2" text-anchor="end">0.4</text>
<text x="296.7" y="92.95" text-anchor="middle">0</text>
<text x="317.52" y="92.95" text-anchor="middle">400</text>
<text x="338.35" y="92.95" text-anchor="middle">800</text>
<text x="359.18" y="92.95" text-anchor="middle">1200</text>
<text x="380" y="92.95" text-anchor="middle">1600</text>
<text x="421.2" y="86.75" text-anchor="end">0</text>
<text x="421.2" y="70.11" text-anchor="end">0.1</text>
<text x="421.2" y="53.48" text-anchor="end">0.2</text>
<text x="421.2" y="36.84" text-anchor="end">0.3</text>
<text x="421.2" y="20.2" text-anchor="end">0.4</text>
<text x="423.3" y="92.95" text-anchor="middle">0</text>
<text x="444.12" y="92.95" text-anchor="middle">400</text>
<text x="464.95" y="92.95" text-anchor="middle">800</text>
<text x="485.78" y="92.95" text-anchor="middle">1200</text>
<text x="506.6" y="92.95" text-anchor="middle">1600</text>
<text x="540.6" y="86.75" text-anchor="end">0</text>
<text x="540.6" y="70.11" text-anchor="end">0.1</text>
<text x="540.6" y="53.48" text-anchor="end">0.2</text>
<text x="540.6" y="36.84" text-anchor="end">0.3</text>
<text x="540.6" y="20.2" text-anchor="end">0.4</text>
<text x="542.7" y="92.95" text-anchor="middle">0</text>
<text x="563.53" y="92.95" text-anchor="middle">400</text>
<text x="584.35" y="92.95" text-anchor="middle">800</text>
<text x="605.18" y="92.95" text-anchor="middle">1200</text>
<text x="626" y="92.95" text-anchor="middle">1600</text>
<text x="660.1" y="86.75" text-anchor="end">0</text>
<text x="660.1" y="70.11" text-anchor="end">0.1</text>
<text x="660.1" y="53.48" text-anchor="end">0.2</text>
<text x="660.1" y="36.84" text-anchor="end">0.3</text>
<text x="660.1" y="20.2" text-anchor="end">0.4</text>
<text x="662.2" y="92.95" text-anchor="middle">0</text>
<text x="683.03" y="92.95" text-anchor="middle">400</text>
<text x="703.85" y="92.95" text-anchor="middle">800</text>
<text x="724.68" y="92.95" text-anchor="middle">1200</text>
<text x="745.5" y="92.95" text-anchor="middle">1600</text>
<text x="53.4" y="176.15" text-anchor="end">0</text>
<text x="53.4" y="159.41" text-anchor="end">0.2</text>
<text x="53.4" y="142.67" text-anchor="end">0.4</text>
<text x="53.4" y="125.94" text-anchor="end">0.6</text>
<text x="53.4" y="109.2" text-anchor="end">0.8</text>
<text x="55.5" y="182.35" text-anchor="middle">0</text>
<text x="76.33" y="182.35" text-anchor="middle">200</text>
<text x="97.15" y="182.35" text-anchor="middle">400</text>
<text x="117.97" y="182.35" text-anchor="middle">600</text>
<text x="138.8" y="182.35" text-anchor="middle">800</text>
<text x="172.1" y="176.15" text-anchor="end">0</text>
<text x="172.1" y="159.41" text-anchor="end">0.1</text>
<text x="172.1" y="142.67" text-anchor="end">0.2</text>
<text x="172.1" y="125.94" text-anchor="end">0.3</text>
<text x="172.1" y="109.2" text-anchor="end">0.4</text>
<text x="174.2" y="182.35" text-anchor="middle">0</text>
<text x="195.02" y="182.35" text-anchor="middle">200</text>
<text x="215.85" y="182.35" text-anchor="middle">400</text>
<text x="236.67" y="182.35" text-anchor="middle">600</text>
<text x="257.5" y="182.35" text-anchor="middle">800</text>
<text x="294.6" y="176.15" text-anchor="end">0</text>
<text x="294.6" y="159.41" text-anchor="end">0.1</text>
<text x="294.6" y="142.67" text-anchor="end">0.2</text>
<text x="294.6" y="125.94" text-anchor="end">0.3</text>
<text x="294.6" y="109.2" text-anchor="end">0.4</text>
<text x="296.7" y="182.35" text-anchor="middle">0</text>
<text x="317.52" y="182.35" text-anchor="middle">400</text>
<text x="338.35" y="182.35" text-anchor="middle">800</text>
<text x="359.18" y="182.35" text-anchor="middle">1200</text>
<text x="380" y="182.35" text-anchor="middle">1600</text>
<text x="421.2" y="176.15" text-anchor="end">0</text>
<text x="421.2" y="159.41" text-anchor="end">0.1</text>
<text x="421.2" y="142.67" text-anchor="end">0.2</text>
<text x="421.2" y="125.94" text-anchor="end">0.3</text>
<text x="421.2" y="109.2" text-anchor="end">0.4</text>
<text x="423.3" y="182.35" text-anchor="middle">0</text>
<text x="444.12" y="182.35" text-anchor="middle">400</text>
<text x="464.95" y="182.35" text-anchor="middle">800</text>
<text x="485.78" y="182.35" text-anchor="middle">1200</text>
<text x="506.6" y="182.35" text-anchor="middle">1600</text>
<text x="541.3" y="177.55" text-anchor="end">0</text>
<text x="541.3" y="160.97" text-anchor="end">0.1</text>
<text x="541.3" y="144.4" text-anchor="end">0.2</text>
<text x="541.3" y="127.83" text-anchor="end">0.3</text>
<text x="541.3" y="111.25" text-anchor="end">0.4</text>
<text x="543.4" y="183.75" text-anchor="middle">0</text>
<text x="564.26" y="183.75" text-anchor="middle">400</text>
<text x="585.12" y="183.75" text-anchor="middle">800</text>
<text x="605.99" y="183.75" text-anchor="middle">1200</text>
<text x="626.85" y="183.75" text-anchor="middle">1600</text>
<text x="660.1" y="176.15" text-anchor="end">0</text>
<text x="660.1" y="159.41" text-anchor="end">0.1</text>
<text x="660.1" y="142.67" text-anchor="end">0.2</text>
<text x="660.1" y="125.94" text-anchor="end">0.3</text>
<text x="660.1" y="109.2" text-anchor="end">0.4</text>
<text x="662.2" y="182.35" text-anchor="middle">0</text>
<text x="683.03" y="182.35" text-anchor="middle">400</text>
<text x="703.85" y="182.35" text-anchor="middle">800</text>
<text x="724.68" y="182.35" text-anchor="middle">1200</text>
<text x="745.5" y="182.35" text-anchor="middle">1600</text>
<text x="53.4" y="291.9" text-anchor="end">0</text>
<text x="53.4" y="278.76" text-anchor="end">0.2</text>
<text x="53.4" y="265.62" text-anchor="end">0.4</text>
<text x="53.4" y="252.48" text-anchor="end">0.6</text>
<text x="53.4" y="239.34" text-anchor="end">0.8</text>
<text x="53.4" y="226.2" text-anchor="end">1</text>
<text x="55.5" y="298.1" text-anchor="middle">50</text>
<text x="76.33" y="298.1" text-anchor="middle">100</text>
<text x="97.15" y="298.1" text-anchor="middle">150</text>
<text x="117.97" y="298.1" text-anchor="middle">200</text>
<text x="138.8" y="298.1" text-anchor="middle">250</text>
<text x="172.1" y="291.9" text-anchor="end">0</text>
<text x="172.1" y="278.76" text-anchor="end">0.2</text>
<text x="172.1" y="265.62" text-anchor="end">0.4</text>
<text x="172.1" y="252.48" text-anchor="end">0.6</text>
<text x="172.1" y="239.34" text-anchor="end">0.8</text>
<text x="172.1" y="226.2" text-anchor="end">1</text>
<text x="174.2" y="298.1" text-anchor="middle">50</text>
<text x="195.02" y="298.1" text-anchor="middle">100</text>
<text x="215.85" y="298.1" text-anchor="middle">150</text>
<text x="236.67" y="298.1" text-anchor="middle">200</text>
<text x="257.5" y="298.1" text-anchor="middle">250</text>
<text x="294.6" y="291.9" text-anchor="end">0</text>
<text x="294.6" y="275.47" text-anchor="end">0.2</text>
<text x="294.6" y="259.05" text-anchor="end">0.4</text>
<text x="294.6" y="242.62" text-anchor="end">0.6</text>
<text x="294.6" y="226.2" text-anchor="end">0.8</text>
<text x="296.7" y="298.1" text-anchor="middle">50</text>
<text x="317.52" y="298.1" text-anchor="middle">100</text>
<text x="338.35" y="298.1" text-anchor="middle">150</text>
<text x="359.18" y="298.1" text-anchor="middle">200</text>
<text x="380" y="298.1" text-anchor="middle">250</text>
<text x="421.2" y="291.9" text-anchor="end">0</text>
<text x="421.2" y="275.47" text-anchor="end">0.1</text>
<text x="421.2" y="259.05" text-anchor="end">0.2</text>
<text x="421.2" y="242.62" text-anchor="end">0.3</text>
<text x="421.2" y="226.2" text-anchor="end">0.4</text>
<text x="423.3" y="298.1" text-anchor="middle">50</text>
<text x="444.12" y="298.1" text-anchor="middle">100</text>
<text x="464.95" y="298.1" text-anchor="middle">150</text>
<text x="485.78" y="298.1" text-anchor="middle">200</text>
<text x="506.6" y="298.1" text-anchor="middle">250</text>
<text x="540.6" y="291.9" text-anchor="end">0</text>
<text x="540.6" y="275.47" text-anchor="end">0.1</text>
<text x="540.6" y="259.05" text-anchor="end">0.2</text>
<text x="540.6" y="242.62" text-anchor="end">0.3</text>
<text x="540.6" y="226.2" text-anchor="end">0.4</text>
<text x="542.7" y="298.1" text-anchor="middle">50</text>
<text x="563.53" y="298.1" text-anchor="middle">100</text>
<text x="584.35" y="298.1" text-anchor="middle">150</text>
<text x="605.18" y="298.1" text-anchor="middle">200</text>
<text x="626" y="298.1" text-anchor="middle">250</text>
<text x="660.1" y="291.9" text-anchor="end">0</text>
<text x="660.1" y="275.47" text-anchor="end">0.1</text>
<text x="660.1" y="259.05" text-anchor="end">0.2</text>
<text x="660.1" y="242.62" text-anchor="end">0.3</text>
<text x="660.1" y="226.2" text-anchor="end">0.4</text>
<text x="662.2" y="298.1" text-anchor="middle">50</text>
<text x="683.03" y="298.1" text-anchor="middle">100</text>
<text x="703.85" y="298.1" text-anchor="middle">150</text>
<text x="724.68" y="298.1" text-anchor="middle">200</text>
<text x="745.5" y="298.1" text-anchor="middle">250</text>
<text x="53.4" y="380.2" text-anchor="end">0</text>
<text x="53.4" y="367" text-anchor="end">0.2</text>
<text x="53.4" y="353.8" text-anchor="end">0.4</text>
<text x="53.4" y="340.6" text-anchor="end">0.6</text>
<text x="53.4" y="327.4" text-anchor="end">0.8</text>
<text x="53.4" y="314.2" text-anchor="end">1</text>
<text x="55.5" y="386.4" text-anchor="middle">50</text>
<text x="76.33" y="386.4" text-anchor="middle">100</text>
<text x="97.15" y="386.4" text-anchor="middle">150</text>
<text x="117.97" y="386.4" text-anchor="middle">200</text>
<text x="138.8" y="386.4" text-anchor="middle">250</text>
<text x="172.1" y="380.2" text-anchor="end">0</text>
<text x="172.1" y="367" text-anchor="end">0.2</text>
<text x="172.1" y="353.8" text-anchor="end">0.4</text>
<text x="172.1" y="340.6" text-anchor="end">0.6</text>
<text x="172.1" y="327.4" text-anchor="end">0.8</text>
<text x="172.1" y="314.2" text-anchor="end">1</text>
<text x="174.2" y="386.4" text-anchor="middle">50</text>
<text x="195.02" y="386.4" text-anchor="middle">100</text>
<text x="215.85" y="386.4" text-anchor="middle">150</text>
<text x="236.67" y="386.4" text-anchor="middle">200</text>
<text x="257.5" y="386.4" text-anchor="middle">250</text>
<text x="294.6" y="380.2" text-anchor="end">0</text>
<text x="294.6" y="363.7" text-anchor="end">0.2</text>
<text x="294.6" y="347.2" text-anchor="end">0.4</text>
<text x="294.6" y="330.7" text-anchor="end">0.6</text>
<text x="294.6" y="314.2" text-anchor="end">0.8</text>
<text x="296.7" y="386.4" text-anchor="middle">50</text>
<text x="317.52" y="386.4" text-anchor="middle">100</text>
<text x="338.35" y="386.4" text-anchor="middle">150</text>
<text x="359.18" y="386.4" text-anchor="middle">200</text>
<text x="380" y="386.4" text-anchor="middle">250</text>
<text x="421.2" y="380.2" text-anchor="end">0</text>
<text x="421.2" y="363.7" text-anchor="end">0.1</text>
<text x="421.2" y="347.2" text-anchor="end">0.2</text>
<text x="421.2" y="330.7" text-anchor="end">0.3</text>
<text x="421.2" y="314.2" text-anchor="end">0.4</text>
<text x="423.3" y="386.4" text-anchor="middle">50</text>
<text x="444.12" y="386.4" text-anchor="middle">100</text>
<text x="464.95" y="386.4" text-anchor="middle">150</text>
<text x="485.78" y="386.4" text-anchor="middle">200</text>
<text x="506.6" y="386.4" text-anchor="middle">250</text>
<text x="540.6" y="380.2" text-anchor="end">0</text>
<text x="540.6" y="363.7" text-anchor="end">0.1</text>
<text x="540.6" y="347.2" text-anchor="end">0.2</text>
<text x="540.6" y="330.7" text-anchor="end">0.3</text>
<text x="540.6" y="314.2" text-anchor="end">0.4</text>
<text x="542.7" y="386.4" text-anchor="middle">50</text>
<text x="563.53" y="386.4" text-anchor="middle">100</text>
<text x="584.35" y="386.4" text-anchor="middle">150</text>
<text x="605.18" y="386.4" text-anchor="middle">200</text>
<text x="626" y="386.4" text-anchor="middle">250</text>
<text x="660.1" y="380.2" text-anchor="end">0</text>
<text x="660.1" y="363.7" text-anchor="end">0.1</text>
<text x="660.1" y="347.2" text-anchor="end">0.2</text>
<text x="660.1" y="330.7" text-anchor="end">0.3</text>
<text x="660.1" y="314.2" text-anchor="end">0.4</text>
<text x="662.2" y="386.4" text-anchor="middle">50</text>
<text x="683.03" y="386.4" text-anchor="middle">100</text>
<text x="703.85" y="386.4" text-anchor="middle">150</text>
<text x="724.68" y="386.4" text-anchor="middle">200</text>
<text x="745.5" y="386.4" text-anchor="middle">250</text>
</g>
<text class="tt" x="77.7" y="10.5" textLength="27.6" lengthAdjust="spacingAndGlyphs">0<tspan font-style="italic">μM</tspan></text>
<text class="tt" x="203.9" y="10.5" textLength="33.9" lengthAdjust="spacingAndGlyphs">30<tspan font-style="italic">μM</tspan></text>
<text class="tt" x="321.9" y="10.5" textLength="33.7" lengthAdjust="spacingAndGlyphs">70<tspan font-style="italic">μM</tspan></text>
<text class="tt" x="444.5" y="10.5" textLength="40" lengthAdjust="spacingAndGlyphs">300<tspan font-style="italic">μM</tspan></text>
<text class="tt" x="565.9" y="10.5" textLength="40.5" lengthAdjust="spacingAndGlyphs">500<tspan font-style="italic">μM</tspan></text>
<text class="tt" x="683.8" y="10.5" textLength="31.2" lengthAdjust="spacingAndGlyphs">2<tspan font-style="italic">mM</tspan></text>
<text class="tt" x="81.1" y="218.3" textLength="27.9" lengthAdjust="spacingAndGlyphs">0<tspan font-style="italic">μM</tspan></text>
<text class="tt" x="196.2" y="218.3" textLength="33.6" lengthAdjust="spacingAndGlyphs">60<tspan font-style="italic">μM</tspan></text>
<text class="tt" x="315.4" y="218.3" textLength="40.2" lengthAdjust="spacingAndGlyphs">250<tspan font-style="italic">μM</tspan></text>
<text class="tt" x="442.4" y="218.3" textLength="40.4" lengthAdjust="spacingAndGlyphs">500<tspan font-style="italic">μM</tspan></text>
<text class="tt" x="566.9" y="218.3" textLength="30.4" lengthAdjust="spacingAndGlyphs">1<tspan font-style="italic">mM</tspan></text>
<text class="tt" x="686.2" y="218.3" textLength="30.1" lengthAdjust="spacingAndGlyphs">2<tspan font-style="italic">mM</tspan></text>
<text class="gl" x="71" y="195.2" textLength="41.6" lengthAdjust="spacingAndGlyphs">GFP [a.u.]</text>
<text class="gl" x="191.4" y="195.2" textLength="41.4" lengthAdjust="spacingAndGlyphs">GFP [a.u.]</text>
<text class="gl" x="314.4" y="195.2" textLength="42.2" lengthAdjust="spacingAndGlyphs">GFP [a.u.]</text>
<text class="gl" x="436.9" y="195.2" textLength="42.2" lengthAdjust="spacingAndGlyphs">GFP [a.u.]</text>
<text class="gl" x="560.6" y="195.2" textLength="42.2" lengthAdjust="spacingAndGlyphs">GFP [a.u.]</text>
<text class="gl" x="683.2" y="195.2" textLength="42.1" lengthAdjust="spacingAndGlyphs">GFP [a.u.]</text>
<text class="gl" x="74.4" y="399.4" textLength="41.7" lengthAdjust="spacingAndGlyphs">GFP [a.u.]</text>
<text class="gl" x="193.2" y="399.4" textLength="41.6" lengthAdjust="spacingAndGlyphs">GFP [a.u.]</text>
<text class="gl" x="315.7" y="399.4" textLength="41.6" lengthAdjust="spacingAndGlyphs">GFP [a.u.]</text>
<text class="gl" x="442.4" y="399.4" textLength="41.9" lengthAdjust="spacingAndGlyphs">GFP [a.u.]</text>
<text class="gl" x="561.4" y="399.4" textLength="41.9" lengthAdjust="spacingAndGlyphs">GFP [a.u.]</text>
<text class="gl" x="680.9" y="399.4" textLength="41.9" lengthAdjust="spacingAndGlyphs">GFP [a.u.]</text>
<text class="sl" x="-0.8" y="12.7" textLength="35.6" lengthAdjust="spacingAndGlyphs">AM1</text>
<text class="sl" x="-1.2" y="219.5" textLength="34" lengthAdjust="spacingAndGlyphs">DZ2</text>
<text class="fl" transform="translate(13.1 168) rotate(-90)" textLength="146" lengthAdjust="spacingAndGlyphs">fraction of cells per bin</text>
<text class="fl" transform="translate(12.6 376.5) rotate(-90)" textLength="145.6" lengthAdjust="spacingAndGlyphs">fraction of cells per bin</text>
<text class="il" transform="translate(31.8 77) rotate(-90)" textLength="49.6" lengthAdjust="spacingAndGlyphs">uninduced</text>
<text class="il" transform="translate(30 166.9) rotate(-90)" textLength="52.4" lengthAdjust="spacingAndGlyphs">preinduced</text>
<text class="il" transform="translate(32.1 284.1) rotate(-90)" textLength="49.6" lengthAdjust="spacingAndGlyphs">uninduced</text>
<text class="il" transform="translate(29.8 374) rotate(-90)" textLength="52.8" lengthAdjust="spacingAndGlyphs">preinduced</text>
</svg>
</body></html>
